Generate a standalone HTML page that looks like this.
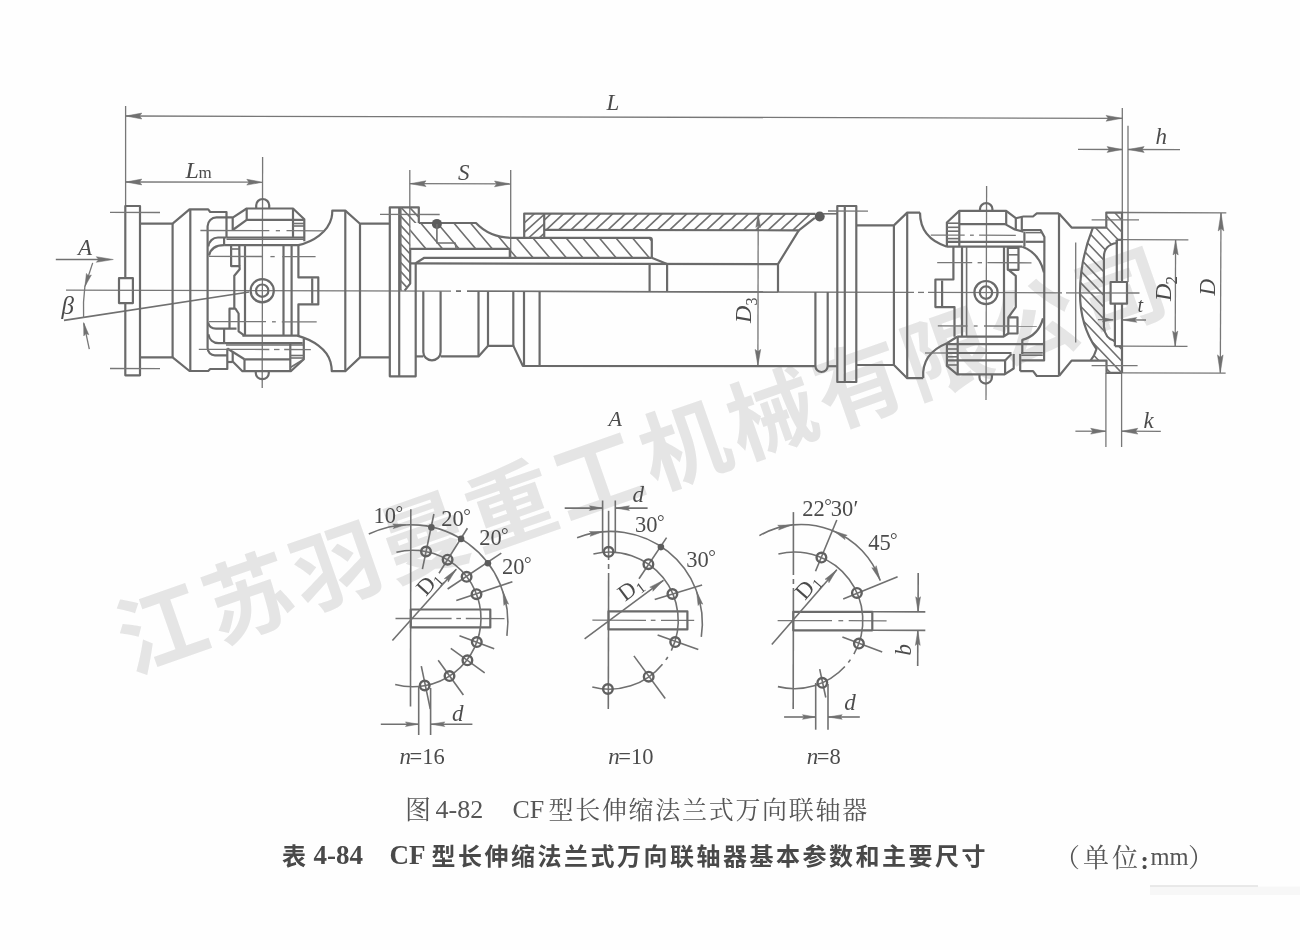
<!DOCTYPE html>
<html><head><meta charset="utf-8"><title>CF</title>
<style>
html,body{margin:0;padding:0;background:#fefefe;}
body{width:1300px;height:950px;overflow:hidden;font-family:"Liberation Serif",serif;}
svg{display:block}
.k{fill:none;stroke:#6b6b6b;stroke-width:2.2;stroke-linejoin:round;stroke-linecap:butt}
.m{fill:none;stroke:#707070;stroke-width:1.6;stroke-linejoin:round}
.n{fill:none;stroke:#777;stroke-width:1.3}
.c{fill:none;stroke:#727272;stroke-width:1.3;stroke-dasharray:26 4 5 4}
.h{fill:none;stroke:#707070;stroke-width:1.6}
.a{fill:#707070;stroke:#707070;stroke-width:0.5;stroke-linejoin:round}
.d{fill:#5c5c5c;stroke:none}
.w{fill:#fefefe;stroke:none}
text{font-family:"Liberation Serif",serif;fill:#4c4c4c}
.ti{font-style:italic}
.tr{font-style:normal}
.tb{font-style:normal;font-weight:bold;fill:#484848}
</style></head>
<body>
<svg width="1300" height="950" viewBox="0 0 1300 950">
<defs>
<filter id="bl" x="-2%" y="-2%" width="104%" height="104%"><feGaussianBlur stdDeviation="0.55"/></filter>
</defs>
<rect width="1300" height="950" fill="#fefefe"/>
<g transform="translate(162.1 629.6) rotate(-19.3)"><text x="-44" y="31" font-size="88" font-weight="bold" letter-spacing="4.4" text-anchor="start" style="font-family:'Liberation Sans','Noto Sans CJK SC',sans-serif;fill:#e5e5e5">江苏羽曼重工机械有限公司</text></g>
<g filter="url(#bl)">
<line class="n" x1="66" y1="290.1" x2="451" y2="291.2"/>
<line class="n" x1="456" y1="291.2" x2="461" y2="291.2"/>
<line class="n" x1="467" y1="291.2" x2="914" y2="292.4"/>
<line class="n" x1="918" y1="292.4" x2="924" y2="292.4"/>
<line class="n" x1="928" y1="292.4" x2="1062" y2="292.8"/>
<line class="n" x1="1066" y1="292.8" x2="1139.5" y2="293"/>
<line class="m" x1="456" y1="291.2" x2="461" y2="291.2"/>
<line class="m" x1="467" y1="291.2" x2="778" y2="292"/>
<line class="m" x1="64" y1="320.4" x2="249" y2="292"/>
<line class="n" x1="125.6" y1="116" x2="1122.3" y2="118.3"/>
<polygon class="a" points="125.8,116 141.8,113.1 139.6,116 141.8,119"/>
<polygon class="a" points="1122.1,118.3 1106.1,121.2 1108.3,118.3 1106.1,115.4"/>
<line class="n" x1="125.6" y1="106" x2="125.6" y2="206"/>
<line class="n" x1="1122.3" y1="108" x2="1122.3" y2="213"/>
<line class="n" x1="1128" y1="125.7" x2="1128" y2="282"/>
<text class="ti" x="606.5" y="110" font-size="23" text-anchor="start">L</text>
<line class="n" x1="125.6" y1="182" x2="263" y2="182.2"/>
<polygon class="a" points="125.8,182 141.8,179.1 139.6,182 141.8,184.9"/>
<polygon class="a" points="262.8,182.2 246.8,185.1 249,182.2 246.8,179.3"/>
<text class="ti" x="185.5" y="177.6" font-size="24" text-anchor="start">L</text>
<text class="tr" x="198.5" y="178.2" font-size="17" text-anchor="start">m</text>
<line class="n" x1="262.6" y1="157" x2="262.2" y2="388"/>
<line class="n" x1="986.6" y1="186" x2="986" y2="400"/>
<line class="n" x1="409.8" y1="170" x2="409.8" y2="249"/>
<line class="n" x1="510.7" y1="170" x2="510.7" y2="258"/>
<line class="n" x1="409.8" y1="183.7" x2="510.7" y2="183.9"/>
<polygon class="a" points="410,183.7 426,180.8 423.8,183.7 426,186.6"/>
<polygon class="a" points="510.5,183.9 494.5,186.8 496.7,183.9 494.5,181"/>
<text class="ti" x="458" y="180" font-size="23" text-anchor="start">S</text>
<line class="n" x1="1078" y1="149.4" x2="1122.3" y2="149.5"/>
<polygon class="a" points="1122.1,149.5 1107.1,152.4 1109.2,149.5 1107.1,146.6"/>
<line class="n" x1="1128" y1="149.5" x2="1180" y2="149.6"/>
<polygon class="a" points="1128.2,149.5 1144.2,146.6 1142,149.5 1144.2,152.4"/>
<text class="ti" x="1155.5" y="143.8" font-size="23" text-anchor="start">h</text>
<line class="n" x1="1105.9" y1="373" x2="1105.9" y2="447"/>
<line class="n" x1="1121.6" y1="373" x2="1121.6" y2="447"/>
<line class="n" x1="1075.4" y1="431.2" x2="1105.9" y2="431.2"/>
<polygon class="a" points="1105.7,431.2 1090.7,434.1 1092.8,431.2 1090.7,428.3"/>
<line class="n" x1="1121.6" y1="431.2" x2="1160.8" y2="431.3"/>
<polygon class="a" points="1121.8,431.2 1137.8,428.3 1135.6,431.2 1137.8,434.1"/>
<text class="ti" x="1143.5" y="427.8" font-size="23" text-anchor="start">k</text>
<line class="n" x1="1122" y1="212.5" x2="1226.3" y2="212.8"/>
<line class="n" x1="1122" y1="372.9" x2="1225.6" y2="373.1"/>
<line class="n" x1="1221" y1="213" x2="1220.3" y2="372.8"/>
<polygon class="a" points="1221,213 1223.8,231 1221,228.5 1218.2,231"/>
<polygon class="a" points="1220.3,372.9 1217.5,354.9 1220.3,357.4 1223.1,354.9"/>
<text class="ti" x="1214.5" y="295.5" font-size="23" text-anchor="start" transform="rotate(-90 1214.5 295.5)">D</text>
<line class="n" x1="1122" y1="239.7" x2="1188.4" y2="239.9"/>
<line class="n" x1="1122" y1="346.1" x2="1187.5" y2="346.3"/>
<line class="n" x1="1175.6" y1="240" x2="1175.2" y2="346"/>
<polygon class="a" points="1175.6,240 1178.2,255 1175.6,252.9 1173,255"/>
<polygon class="a" points="1175.2,346.1 1172.6,331.1 1175.2,333.2 1177.8,331.1"/>
<text class="ti" x="1171" y="301" font-size="24" text-anchor="start" transform="rotate(-90 1171 301)">D</text>
<text class="tr" x="1177" y="284.5" font-size="17" text-anchor="start" transform="rotate(-90 1177 284.5)">2</text>
<line class="n" x1="1098" y1="319.7" x2="1113" y2="319.8"/>
<polygon class="a" points="1113.4,319.8 1102.4,322 1103.9,319.8 1102.4,317.6"/>
<line class="n" x1="1121.8" y1="319.9" x2="1146" y2="320"/>
<polygon class="a" points="1121.8,319.9 1136.8,317.5 1134.7,319.9 1136.8,322.3"/>
<text class="ti" x="1137.5" y="311.8" font-size="20" text-anchor="start">t</text>
<line class="n" x1="758.2" y1="214.2" x2="757.9" y2="365.4"/>
<polygon class="a" points="758.2,214.4 760.6,227.4 758.2,225.6 755.8,227.4"/>
<polygon class="a" points="757.9,365.4 755.1,349.4 757.9,351.6 760.7,349.4"/>
<text class="ti" x="750.5" y="323" font-size="24" text-anchor="start" transform="rotate(-90 750.5 323)">D</text>
<text class="tr" x="757" y="305.5" font-size="16" text-anchor="start" transform="rotate(-90 757 305.5)">3</text>
<line class="m" x1="55.8" y1="259.5" x2="100" y2="259.5"/>
<polygon class="a" points="113.3,259.5 96.3,262.3 98.7,259.5 96.3,256.7"/>
<text class="ti" x="78" y="254.8" font-size="23" text-anchor="start">A</text>
<text class="ti" x="608.5" y="426.4" font-size="22" text-anchor="start">A</text>
<text class="ti" x="61.5" y="313.5" font-size="25" text-anchor="start">&#946;</text>
<path class="n" d="M92.7 262.9 L85 286.2"/>
<polygon class="a" points="84.9,286.6 86.4,273.4 88.4,276 91.4,275"/>
<path class="n" d="M84.9 286.2 A178 178 0 0 0 83.6 318"/>
<path class="n" d="M89.3 349.2 L83.8 323.4"/>
<polygon class="a" points="83.6,322.6 88.8,334.8 85.9,333.5 83.8,335.9"/>
<rect class="k" x="125.3" y="206" width="14.7" height="169.3"/>
<line class="n" x1="110" y1="212.4" x2="160" y2="212.5"/>
<line class="n" x1="110" y1="368.5" x2="160" y2="368.6"/>
<rect class="k" x="119" y="278.2" width="13.9" height="24.9" style="fill:#fefefe"/>
<line class="n" x1="119" y1="290.3" x2="133" y2="290.3"/>
<polyline class="k" points="140,223.7 172.6,223.7 189.5,209.4 208.2,209.4 210.2,212 226.5,212 226.5,237.5"/>
<polyline class="k" points="140,357.4 172.6,357.4 189.5,371 208.2,371 210.2,369 227.3,369 227.3,348.5"/>
<line class="k" x1="172.6" y1="223.7" x2="172.6" y2="357.4"/>
<line class="k" x1="190.3" y1="209.4" x2="190.3" y2="371"/>
<path class="k" d="M232.7 217.3H216.5A9 9 0 0 0 207.6 226.2V348A7.3 7.3 0 0 0 214.9 355.3H227.3"/>
<path class="k" d="M226.5 237.5H218A9.6 9.6 0 0 0 208.4 246.5"/>
<path class="k" d="M209 255.5C210.5 249 216 245.1 224.1 245.1"/>
<path class="k" d="M224.1 237.5V245.1"/>
<path class="k" d="M208 322.5C209 326.5 212 328.6 216 328.6H236.5"/>
<path class="k" d="M208.3 334.3C209.3 339.5 213 343.2 218.5 343.2H224.1"/>
<line class="k" x1="224.1" y1="328.6" x2="224.1" y2="343.2"/>
<polyline class="k" points="232.7,230 232.7,217.6 246.7,208.5 293,208.5 304.3,219.2 304.3,241.3"/>
<polyline class="k" points="232.7,230 246.7,219.8 303.8,219.8"/>
<line class="k" x1="246.7" y1="208.5" x2="246.7" y2="219.8"/>
<line class="k" x1="293" y1="208.5" x2="293" y2="237.5"/>
<line class="m" x1="293" y1="223.5" x2="304.3" y2="223.5"/>
<line class="m" x1="293" y1="226" x2="304.3" y2="226"/>
<line class="k" x1="226.5" y1="237.5" x2="304.3" y2="237.5"/>
<line class="m" x1="226.5" y1="239.2" x2="304.3" y2="239.2"/>
<path class="k" d="M224.1 245.1H298.4C313 242 328 232 331.5 218C332.3 215 332.3 213 332.3 210.6H345.3L360 223.7H389.8"/>
<path class="k" d="M256.2 208.5V205.3A6.5 6.3 0 0 1 269.2 205.3V208.5"/>
<line class="n" x1="200.4" y1="230.5" x2="269.3" y2="230.7"/>
<line class="n" x1="275.8" y1="230.7" x2="280" y2="230.7"/>
<line class="n" x1="286.5" y1="230.7" x2="324.2" y2="230.8"/>
<polyline class="k" points="231.1,245.1 231.1,266.1 239.5,266.1 239.7,269.3 234.3,275.8 234.3,308.4"/>
<line class="k" x1="239.3" y1="245.1" x2="239.5" y2="266.1"/>
<line class="m" x1="231.1" y1="249" x2="239.3" y2="249"/>
<polyline class="k" points="229.5,328.6 229.5,308.7 235.4,308.7 238.6,313.5 238.6,331.3 244.5,335.6"/>
<line class="k" x1="245" y1="245.1" x2="245" y2="335.6"/>
<line class="k" x1="283.5" y1="245.1" x2="283.5" y2="335.6"/>
<line class="k" x1="291.6" y1="245.1" x2="291.6" y2="335.6"/>
<polyline class="k" points="298.4,245.1 298.4,277.4 318.3,277.4 318.3,304.4 298.4,304.4 298.4,336.7"/>
<line class="k" x1="312.2" y1="278.3" x2="312.2" y2="303.6"/>
<line class="n" x1="209" y1="256.4" x2="262.8" y2="256.5"/>
<line class="n" x1="270.4" y1="256.6" x2="274.7" y2="256.6"/>
<line class="n" x1="282.3" y1="256.6" x2="315.6" y2="256.7"/>
<line class="n" x1="209" y1="321.6" x2="266" y2="321.7"/>
<line class="n" x1="272" y1="321.8" x2="275.8" y2="321.8"/>
<line class="n" x1="281.8" y1="321.8" x2="316.7" y2="321.9"/>
<circle class="k" cx="262.2" cy="290.7" r="11.6"/>
<circle class="k" cx="262.2" cy="290.7" r="6.2"/>
<path class="k" d="M242.4 335.6H297.3C313 340 327 349 330.5 362C331.5 366 331.8 369 331.8 371.2H345.3L360 357.4H389.8"/>
<line class="k" x1="224.1" y1="343.2" x2="302.7" y2="343.2"/>
<line class="m" x1="226" y1="345" x2="303.8" y2="345"/>
<polyline class="k" points="303.8,338.8 303.8,359.3 290.8,371.2 242.4,371.2 232.7,361.5 232.7,351.8"/>
<line class="k" x1="290.3" y1="343.2" x2="290.3" y2="371.2"/>
<line class="m" x1="290.3" y1="355.5" x2="303.8" y2="355.5"/>
<line class="m" x1="290.3" y1="358" x2="303.8" y2="358"/>
<line class="k" x1="244.5" y1="359.3" x2="290.3" y2="359.3"/>
<line class="k" x1="227.3" y1="348.5" x2="244.5" y2="359.3"/>
<line class="k" x1="244.5" y1="359.3" x2="244.5" y2="371.2"/>
<line class="k" x1="227.3" y1="362" x2="232.7" y2="362"/>
<line class="m" x1="290.3" y1="367.5" x2="303.8" y2="359.3"/>
<path class="k" d="M255.8 371.2V373.2A6.5 6 0 0 0 268.8 373.2V371.2"/>
<line class="n" x1="198.8" y1="349.3" x2="269.3" y2="349.5"/>
<line class="n" x1="274" y1="349.5" x2="279.5" y2="349.5"/>
<line class="n" x1="284.2" y1="349.5" x2="310.8" y2="349.6"/>
<line class="k" x1="345.3" y1="210.6" x2="345.3" y2="371.2"/>
<line class="k" x1="360" y1="223.7" x2="360" y2="357.4"/>
<polyline class="k" points="418.8,223 418.8,207.3 389.8,207.3 389.8,376.3 415.7,376.3 415.7,263.3"/>
<line class="k" x1="399.2" y1="207.3" x2="399.2" y2="376.3"/>
<line class="m" x1="400.8" y1="207.3" x2="400.8" y2="290.5"/>
<line class="n" x1="380" y1="214.4" x2="439.7" y2="214.5"/>
<clipPath id="c1"><path d="M400.8 207.3H418.8V223H410.2V283.6L404.6 290.6H400.8Z"/></clipPath>
<g clip-path="url(#c1)">
<path class="h" d="M305.1 206L385.4 292M313.7 206L394 292M322.3 206L402.6 292M330.9 206L411.2 292M339.5 206L419.8 292M348.1 206L428.4 292M356.7 206L437 292M365.3 206L445.6 292M373.9 206L454.2 292M382.5 206L462.8 292M391.1 206L471.4 292M399.7 206L480 292M408.3 206L488.6 292M416.9 206L497.2 292M425.5 206L505.8 292M434.1 206L514.4 292M442.7 206L523 292M451.3 206L531.6 292M459.9 206L540.2 292M468.5 206L548.8 292M477.1 206L557.4 292M485.7 206L566 292M494.3 206L574.6 292M502.9 206L583.2 292"/>
</g>
<clipPath id="c2"><path d="M410.2 223H476C484 231.5 496 237.3 510.5 237.8H651.7V257.8H509.8V248.9H410.2Z"/></clipPath>
<g clip-path="url(#c2)">
<path class="h" d="M353.4 222L383.9 258M370 222L400.5 258M386.6 222L417.1 258M403.2 222L433.7 258M419.8 222L450.3 258M436.4 222L466.9 258M453 222L483.5 258M469.6 222L500.1 258M486.2 222L516.7 258M502.8 222L533.3 258M519.4 222L549.9 258M536 222L566.5 258M552.6 222L583.1 258M569.2 222L599.7 258M585.8 222L616.3 258M602.4 222L632.9 258M619 222L649.5 258M635.6 222L666.1 258M652.2 222L682.7 258M668.8 222L699.3 258M685.4 222L715.9 258"/>
</g>
<path class="k" d="M418.8 223H476C484 231.5 496 237.3 510.5 237.8H650A1.8 1.8 0 0 1 651.8 239.6V257.8"/>
<polyline class="k" points="404.6,290.6 410.2,283.6 410.2,248.9 509.8,248.9 509.8,257.8"/>
<circle class="d" cx="436.9" cy="223.9" r="5"/>
<polyline class="m" points="436.9,224 436.9,243 455.1,243 456.3,248.9"/>
<polyline class="k" points="415.7,263.3 424.3,257.8 651.7,257.8"/>
<line class="k" x1="651.7" y1="257.8" x2="667.1" y2="263.9"/>
<line class="k" x1="410.8" y1="263.4" x2="778" y2="264.1"/>
<line class="k" x1="649.6" y1="263.9" x2="649.6" y2="291.6"/>
<line class="k" x1="667.1" y1="263.9" x2="667.1" y2="291.7"/>
<path class="k" d="M415.7 356.4H423.3"/>
<path class="k" d="M423.3 291.2V352A8.65 8.3 0 0 0 440.6 352V291.2"/>
<polyline class="k" points="440.6,356.4 478.5,356.4 487.9,345.9 513.4,345.9 522.8,365.8 815.4,366.2"/>
<line class="k" x1="478.5" y1="291.3" x2="478.5" y2="356.4"/>
<line class="k" x1="488" y1="291.3" x2="488" y2="345.9"/>
<line class="k" x1="513.3" y1="291.4" x2="513.3" y2="345.9"/>
<line class="k" x1="524" y1="291.4" x2="524" y2="365.8"/>
<line class="k" x1="539.6" y1="291.5" x2="539.6" y2="366"/>
<clipPath id="c3"><path d="M524.2 213.6H544.2V237.8H524.2Z"/></clipPath>
<g clip-path="url(#c3)">
<path class="h" d="M476 238L503.8 213M486.5 238L514.3 213M497 238L524.8 213M507.5 238L535.3 213M518 238L545.8 213M528.5 238L556.3 213M539 238L566.8 213M549.5 238L577.3 213M560 238L587.8 213M570.5 238L598.3 213M581 238L608.8 213"/>
</g>
<clipPath id="c4"><path d="M544.2 213.6H815.5L814.5 218L798.8 230.2H544.2Z"/></clipPath>
<g clip-path="url(#c4)">
<path class="h" d="M508.9 230.2L526.4 213.6M521.3 230.2L538.8 213.6M533.6 230.2L551.1 213.6M546 230.2L563.5 213.6M558.4 230.2L575.8 213.6M570.7 230.2L588.2 213.6M583.1 230.2L600.5 213.6M595.4 230.2L612.9 213.6M607.8 230.2L625.2 213.6M620.1 230.2L637.6 213.6M632.5 230.2L649.9 213.6M644.8 230.2L662.3 213.6M657.2 230.2L674.6 213.6M669.5 230.2L687 213.6M681.9 230.2L699.3 213.6M694.2 230.2L711.7 213.6M706.6 230.2L724 213.6M718.9 230.2L736.4 213.6M731.3 230.2L748.7 213.6M743.6 230.2L761.1 213.6M756 230.2L773.4 213.6M768.3 230.2L785.8 213.6M780.7 230.2L798.1 213.6M793 230.2L810.5 213.6M805.4 230.2L822.8 213.6M817.7 230.2L835.2 213.6M830.1 230.2L847.5 213.6M842.4 230.2L859.9 213.6"/>
</g>
<polyline class="k" points="524.2,237.8 524.2,213.6 815.5,213.8"/>
<line class="k" x1="544.2" y1="213.6" x2="544.2" y2="237.8"/>
<polyline class="k" points="544.2,229.9 798.8,230.3 814.8,217.8"/>
<circle class="d" cx="819.7" cy="216.5" r="5"/>
<line class="m" x1="823" y1="213.8" x2="837.3" y2="213.8"/>
<polyline class="k" points="798.8,230.3 778,264.1 778,292"/>
<path class="k" d="M815.4 292.1V366A6.15 6 0 0 0 827.7 366V292.1"/>
<line class="k" x1="827.7" y1="366.2" x2="837.3" y2="366.2"/>
<rect class="k" x="837.3" y="206" width="19" height="176"/>
<line class="k" x1="844.8" y1="206" x2="844.8" y2="382"/>
<line class="n" x1="828" y1="211" x2="868" y2="211.1"/>
<polyline class="k" points="856.3,225.4 893.9,225.4 907.2,212.6 920,212.6"/>
<polyline class="k" points="856.3,365 893.9,365 907.2,378.2 923.2,378.2"/>
<line class="k" x1="893.9" y1="225.4" x2="893.9" y2="365"/>
<line class="k" x1="907.2" y1="212.6" x2="907.2" y2="378.2"/>
<path class="k" d="M920 212.6C920 226 926 240 946.9 246.7"/>
<path class="k" d="M923.2 378.2C922 362 930 350 946.9 343.2L957.2 336.7"/>
<polyline class="k" points="953.4,246.7 953.4,279.5 935.4,279.5 935.4,307.1 954.5,307.1 954.5,336.7"/>
<line class="k" x1="942.1" y1="280.5" x2="942.1" y2="306.2"/>
<polyline class="k" points="946.9,246.7 946.9,222.5 959.3,210.9 1006.2,210.9 1015.8,218.2 1015.8,229.5"/>
<line class="k" x1="959.3" y1="210.9" x2="959.3" y2="246.7"/>
<line class="k" x1="959.3" y1="224.1" x2="1005.1" y2="224.1"/>
<line class="k" x1="1006.2" y1="210.9" x2="1006.2" y2="224.1"/>
<path class="k" d="M1005.1 224.1L1014.8 229.5L1023.4 231.6"/>
<line class="m" x1="946.9" y1="223.2" x2="959.3" y2="223.2"/>
<line class="m" x1="946.9" y1="227.3" x2="959.3" y2="227.3"/>
<line class="m" x1="946.9" y1="231.2" x2="959.3" y2="231.2"/>
<line class="m" x1="946.9" y1="238.6" x2="959.3" y2="238.6"/>
<line class="k" x1="946.9" y1="241.8" x2="1023.4" y2="241.8"/>
<line class="k" x1="946.9" y1="246.7" x2="1022.3" y2="246.7"/>
<path class="k" d="M980 210.9V208.8A6.2 5.6 0 0 1 992.4 208.8V210.9"/>
<line class="n" x1="930.8" y1="235.1" x2="964.7" y2="235.2"/>
<line class="n" x1="970" y1="235.2" x2="973.8" y2="235.2"/>
<line class="n" x1="979.1" y1="235.2" x2="1015.8" y2="235.3"/>
<polyline class="k" points="1015.8,218.2 1023.4,216.5 1033,216.5 1036.8,213.3 1058.9,213.3"/>
<line class="k" x1="1021.8" y1="217" x2="1021.8" y2="230"/>
<polyline class="k" points="1021.8,230 1040.6,230 1044.4,237 1044.1,360.4 1021.2,360.4"/>
<line class="m" x1="1025.5" y1="232.6" x2="1042.2" y2="232.6"/>
<line class="k" x1="1025.5" y1="241.8" x2="1044.3" y2="241.8"/>
<line class="k" x1="1024.4" y1="231.6" x2="1024.4" y2="246.7"/>
<path class="k" d="M1022.3 246.7C1034 251 1041 260 1044 272.5"/>
<rect class="k" x="1007.8" y="247.8" width="10.7" height="22"/>
<line class="m" x1="1007.8" y1="254.8" x2="1018.5" y2="254.8"/>
<polyline class="k" points="1008.5,269.8 1015.8,275.8 1015.8,307.1 1008.3,317.3 1008.3,333.5 1017.5,333.5 1017.5,317.3 1008.3,317.3"/>
<line class="k" x1="962" y1="246.7" x2="962" y2="336.7"/>
<line class="m" x1="966.6" y1="246.7" x2="966.6" y2="336.7"/>
<line class="k" x1="1004" y1="246.7" x2="1004" y2="336.7"/>
<line class="n" x1="937.2" y1="262.6" x2="972.2" y2="262.7"/>
<line class="n" x1="977.6" y1="262.7" x2="982" y2="262.7"/>
<line class="n" x1="987.4" y1="262.7" x2="1031.5" y2="262.8"/>
<line class="n" x1="937.8" y1="325.9" x2="967.4" y2="326"/>
<line class="n" x1="973.8" y1="326" x2="977.6" y2="326"/>
<line class="n" x1="984" y1="326" x2="1036.8" y2="326.2"/>
<circle class="k" cx="986" cy="292.6" r="11.6"/>
<circle class="k" cx="986" cy="292.6" r="6.2"/>
<path class="k" d="M957.2 336.7H1003.5L1008.3 333.5"/>
<polyline class="k" points="946.9,343.2 946.9,365.8 957.2,374.4 1004.5,374.4 1013.7,368.5 1013.7,353.9"/>
<line class="k" x1="957.7" y1="336.7" x2="957.7" y2="374.4"/>
<line class="k" x1="946.9" y1="344.2" x2="1043" y2="344.2"/>
<line class="k" x1="946.9" y1="353" x2="1011.5" y2="353"/>
<line class="k" x1="946.9" y1="360.4" x2="1005.1" y2="360.4"/>
<line class="m" x1="946.9" y1="349" x2="957.7" y2="349"/>
<line class="m" x1="946.9" y1="356.8" x2="957.7" y2="356.8"/>
<line class="m" x1="946.9" y1="365" x2="957.7" y2="365"/>
<line class="k" x1="1005.1" y1="360.4" x2="1011.5" y2="353.9"/>
<line class="k" x1="1005.1" y1="360.4" x2="1005.1" y2="374.4"/>
<line class="k" x1="1020.2" y1="353.9" x2="1020.2" y2="371.2"/>
<line class="m" x1="1021.2" y1="352.8" x2="1042.8" y2="352.8"/>
<line class="m" x1="1021.2" y1="355.2" x2="1042.8" y2="355.2"/>
<path class="k" d="M1043 318.4C1040 330 1033 337 1022.3 339.9V353.9"/>
<polyline class="k" points="1020.2,371.2 1033.1,371.2 1036.8,376 1058.9,376"/>
<path class="k" d="M979.5 374.4V377.4A6.2 6.2 0 0 0 991.9 377.4V374.4"/>
<line class="n" x1="925" y1="353" x2="946.9" y2="353"/>
<line class="k" x1="1059" y1="213.3" x2="1059" y2="376"/>
<polyline class="k" points="1059,213.5 1071.6,227.6 1106.3,227.6 1106.3,212.6 1122,212.6 1122,373"/>
<polyline class="k" points="1059,376 1071.6,360.6 1106.5,360.6 1106.5,372.8 1122,372.8"/>
<line class="n" x1="1075.7" y1="242.5" x2="1075.7" y2="342.4"/>
<clipPath id="c5"><path d="M1106.3 212.6H1122V239.8H1116.8V243C1109 244 1103.9 249 1103.9 257V326.5C1104.5 334 1108 339.5 1114.9 341V346.2H1122V372.8H1106.5V360.6H1090.5Q1094.5 356 1096.5 349C1086 334 1080 315 1080 293C1080 272 1084 250 1092.8 227.8L1106.3 227.6Z"/></clipPath>
<g clip-path="url(#c5)">
<path class="h" d="M912.5 212L1066.8 374M923.7 212L1078 374M934.9 212L1089.2 374M946.1 212L1100.4 374M957.3 212L1111.6 374M968.5 212L1122.8 374M979.7 212L1134 374M990.9 212L1145.2 374M1002.1 212L1156.4 374M1013.3 212L1167.6 374M1024.5 212L1178.8 374M1035.7 212L1190 374M1046.9 212L1201.2 374M1058.1 212L1212.4 374M1069.3 212L1223.6 374M1080.5 212L1234.8 374M1091.7 212L1246 374M1102.9 212L1257.2 374M1114.1 212L1268.4 374M1125.3 212L1279.6 374M1136.5 212L1290.8 374M1147.7 212L1302 374M1158.9 212L1313.2 374M1170.1 212L1324.4 374M1181.3 212L1335.6 374M1192.5 212L1346.8 374M1203.7 212L1358 374M1214.9 212L1369.2 374M1226.1 212L1380.4 374M1237.3 212L1391.6 374M1248.5 212L1402.8 374M1259.7 212L1414 374M1270.9 212L1425.2 374M1282.1 212L1436.4 374"/>
</g>
<path class="k" d="M1092.8 227.8C1084 250 1080 272 1080 293C1080 315 1086 334 1096.5 349Q1094.5 356 1090.5 360.6"/>
<path class="k" d="M1116.8 239.8V243C1109 244 1103.9 249 1103.9 257V326.5C1104.5 334 1108 339.5 1114.9 341"/>
<line class="k" x1="1116.8" y1="239.8" x2="1122" y2="239.8"/>
<line class="k" x1="1114.9" y1="346.2" x2="1122" y2="346.2"/>
<line class="k" x1="1116.8" y1="239.8" x2="1116.8" y2="282"/>
<line class="k" x1="1114.9" y1="303.7" x2="1114.9" y2="346.2"/>
<rect class="k" x="1110.6" y="282" width="16.4" height="21.7" style="fill:#fefefe"/>
<line class="n" x1="1110.6" y1="293" x2="1127" y2="293"/>
<line class="n" x1="1091.6" y1="219.8" x2="1139" y2="219.9"/>
<line class="n" x1="1091.6" y1="365.6" x2="1137.6" y2="365.7"/>
</g>
<g filter="url(#bl)">
<line class="m" x1="410.8" y1="509.2" x2="410.5" y2="706.5"/>
<line class="n" x1="395.5" y1="618.5" x2="451.6" y2="618.5"/>
<line class="n" x1="456.3" y1="618.5" x2="461" y2="618.5"/>
<line class="n" x1="465.8" y1="618.5" x2="504.5" y2="618.6"/>
<rect class="k" x="410.8" y="609.5" width="79.5" height="17.9"/>
<path class="m" d="M396.4 552.3A68.2 68.2 0 1 1 395.2 684.4"/>
<path class="m" d="M368.8 534A97.5 97.5 0 0 1 506.9 635.8"/>
<line class="m" x1="433.9" y1="514" x2="422.4" y2="569.2"/>
<line class="m" x1="467.4" y1="528.2" x2="439" y2="573.2"/>
<line class="m" x1="501.3" y1="553.1" x2="447.6" y2="589"/>
<line class="m" x1="512.4" y1="581.8" x2="456.3" y2="600.5"/>
<line class="m" x1="459.5" y1="635.8" x2="494.2" y2="648.7"/>
<line class="m" x1="450.8" y1="648.4" x2="484.7" y2="672.9"/>
<line class="m" x1="438.2" y1="660.3" x2="463.4" y2="695"/>
<line class="m" x1="421.3" y1="666.1" x2="430.3" y2="709.2"/>
<circle class="k" cx="426" cy="551.5" r="4.8" style="stroke-width:2.4;stroke:#606060"/>
<circle class="k" cx="447.6" cy="559.7" r="4.8" style="stroke-width:2.4;stroke:#606060"/>
<circle class="k" cx="466.6" cy="576.8" r="4.8" style="stroke-width:2.4;stroke:#606060"/>
<circle class="k" cx="476.5" cy="594.2" r="4.8" style="stroke-width:2.4;stroke:#606060"/>
<circle class="k" cx="476.8" cy="642.1" r="4.8" style="stroke-width:2.4;stroke:#606060"/>
<circle class="k" cx="467.4" cy="660.3" r="4.8" style="stroke-width:2.4;stroke:#606060"/>
<circle class="k" cx="449.5" cy="676.1" r="4.8" style="stroke-width:2.4;stroke:#606060"/>
<circle class="k" cx="424.7" cy="685.5" r="4.8" style="stroke-width:2.4;stroke:#606060"/>
<circle class="d" cx="431.4" cy="527.4" r="3.3"/>
<circle class="d" cx="461.1" cy="538.9" r="3.3"/>
<circle class="d" cx="487.9" cy="563.2" r="3.3"/>
<polygon class="a" points="405.9,524.8 393.2,528.6 394.8,526.1 392.7,523.9"/>
<polygon class="a" points="502.8,591.3 508.6,604.2 505.8,602.9 503.9,605.4"/>
<line class="m" x1="392.4" y1="640.5" x2="456.3" y2="569.2"/>
<polygon class="a" points="456.3,569.2 448.2,582.1 447.7,578.8 444.3,578.6"/>
<text class="tr" x="426" y="597" font-size="23" text-anchor="start" transform="rotate(-48 426 597)">D</text>
<text class="tr" x="439.5" y="587" font-size="15" text-anchor="start" transform="rotate(-48 439.5 587)">1</text>
<line class="m" x1="418.7" y1="686" x2="418.7" y2="735"/>
<line class="m" x1="430.6" y1="688" x2="430.6" y2="735"/>
<line class="m" x1="380.8" y1="724.2" x2="418.7" y2="724.2"/>
<polygon class="a" points="418.5,724.2 405.5,726.5 407.3,724.2 405.5,721.9"/>
<line class="m" x1="430.6" y1="724.2" x2="472.4" y2="724.2"/>
<polygon class="a" points="430.8,724.2 444.8,721.9 442.8,724.2 444.8,726.5"/>
<text class="ti" x="452" y="721" font-size="23" text-anchor="start">d</text>
<text class="ti" x="399.5" y="763.7" font-size="23" text-anchor="start">n</text>
<text class="tr" x="409.5" y="763.7" font-size="22.5" text-anchor="start">=16</text>
<text class="tr" x="373.5" y="522.6" font-size="22.5" text-anchor="start">10</text>
<text class="tr" x="395.4" y="518.6" font-size="19" text-anchor="start">&#176;</text>
<text class="tr" x="441.3" y="525.8" font-size="22.5" text-anchor="start">20</text>
<text class="tr" x="463.2" y="521.8" font-size="19" text-anchor="start">&#176;</text>
<text class="tr" x="479.2" y="544.7" font-size="22.5" text-anchor="start">20</text>
<text class="tr" x="501.1" y="540.7" font-size="19" text-anchor="start">&#176;</text>
<text class="tr" x="502.1" y="574" font-size="22.5" text-anchor="start">20</text>
<text class="tr" x="524" y="570" font-size="19" text-anchor="start">&#176;</text>
<line class="m" x1="608.6" y1="510.8" x2="608.6" y2="560"/>
<line class="m" x1="608.6" y1="564" x2="608.6" y2="569"/>
<line class="m" x1="608.6" y1="573" x2="608.3" y2="709"/>
<line class="n" x1="592.4" y1="620.2" x2="646" y2="620.3"/>
<line class="n" x1="650.8" y1="620.3" x2="655.5" y2="620.3"/>
<line class="n" x1="661" y1="620.3" x2="694.2" y2="620.4"/>
<rect class="k" x="608.5" y="611.3" width="78.9" height="18.1"/>
<path class="m" d="M593.4 554A68.6 68.6 0 0 1 671.3 650.7"/>
<path class="m" d="M667.8 657A68.6 68.6 0 0 1 665.8 659.9"/>
<path class="m" d="M662.5 664.2A68.6 68.6 0 0 1 592.3 687"/>
<path class="m" d="M577.1 537.8A91.7 91.7 0 0 1 701.3 636.9"/>
<line class="m" x1="666.6" y1="537.6" x2="639" y2="578.7"/>
<line class="m" x1="702.1" y1="585" x2="654.7" y2="599.5"/>
<line class="m" x1="657.6" y1="635" x2="698.3" y2="649.6"/>
<line class="m" x1="633.9" y1="655.9" x2="665.2" y2="698.5"/>
<circle class="k" cx="608.6" cy="551.8" r="4.8" style="stroke-width:2.4;stroke:#606060"/>
<circle class="k" cx="648.4" cy="564.2" r="4.8" style="stroke-width:2.4;stroke:#606060"/>
<circle class="k" cx="672.4" cy="594" r="4.8" style="stroke-width:2.4;stroke:#606060"/>
<circle class="k" cx="675.2" cy="642.1" r="4.8" style="stroke-width:2.4;stroke:#606060"/>
<circle class="k" cx="648.7" cy="676.7" r="4.8" style="stroke-width:2.4;stroke:#606060"/>
<circle class="k" cx="607.9" cy="689" r="4.8" style="stroke-width:2.4;stroke:#606060"/>
<circle class="d" cx="660.9" cy="547.1" r="3.3"/>
<polygon class="a" points="602.6,531.8 590.1,536.3 591.6,533.6 589.4,531.5"/>
<polygon class="a" points="696.6,591.4 702.8,604.2 699.9,603 698.1,605.5"/>
<line class="m" x1="584.6" y1="638.8" x2="663.4" y2="580.3"/>
<polygon class="a" points="663.4,580.3 652.9,591.3 653,588 649.8,587.2"/>
<text class="tr" x="625" y="602" font-size="23" text-anchor="start" transform="rotate(-37 625 602)">D</text>
<text class="tr" x="640.8" y="593.9" font-size="15" text-anchor="start" transform="rotate(-37 640.8 593.9)">1</text>
<line class="m" x1="602.6" y1="500.5" x2="602.6" y2="552"/>
<line class="m" x1="615.3" y1="500.5" x2="615.3" y2="552"/>
<line class="m" x1="564.7" y1="508.1" x2="602.6" y2="508.1"/>
<polygon class="a" points="602.4,508.1 589.4,510.4 591.2,508.1 589.4,505.8"/>
<line class="m" x1="615.3" y1="508.1" x2="647.6" y2="508.1"/>
<polygon class="a" points="615.5,508.1 629.5,505.8 627.5,508.1 629.5,510.4"/>
<text class="ti" x="632.5" y="502.3" font-size="23" text-anchor="start">d</text>
<text class="ti" x="608.3" y="763.9" font-size="23" text-anchor="start">n</text>
<text class="tr" x="618.3" y="763.9" font-size="22.5" text-anchor="start">=10</text>
<text class="tr" x="635" y="532.1" font-size="22.5" text-anchor="start">30</text>
<text class="tr" x="656.9" y="528.1" font-size="19" text-anchor="start">&#176;</text>
<text class="tr" x="686.3" y="566.5" font-size="22.5" text-anchor="start">30</text>
<text class="tr" x="708.2" y="562.5" font-size="19" text-anchor="start">&#176;</text>
<line class="m" x1="793.4" y1="512.1" x2="793.4" y2="575"/>
<line class="m" x1="793.4" y1="579" x2="793.4" y2="584"/>
<line class="m" x1="793.4" y1="588" x2="793.2" y2="708.9"/>
<line class="n" x1="777.6" y1="620.6" x2="832" y2="620.7"/>
<line class="n" x1="838.4" y1="620.7" x2="843.2" y2="620.7"/>
<line class="n" x1="848.7" y1="620.7" x2="886.6" y2="620.8"/>
<rect class="k" x="793.3" y="611.8" width="79" height="18.5"/>
<path class="m" d="M778.4 554A68.3 68.3 0 0 1 853.9 654.1"/>
<path class="m" d="M850.4 659.6A68.3 68.3 0 0 1 848.3 662.4"/>
<path class="m" d="M844.9 666.5A68.3 68.3 0 0 1 777.9 686.6"/>
<path class="m" d="M759.4 535.6A83.8 83.8 0 0 1 880.2 580.4"/>
<line class="m" x1="836.8" y1="520" x2="815.5" y2="571.3"/>
<line class="m" x1="897.6" y1="576.8" x2="843.2" y2="599"/>
<line class="m" x1="842.4" y1="636.9" x2="882.2" y2="652.1"/>
<line class="m" x1="819.7" y1="669.1" x2="825.8" y2="697.5"/>
<circle class="k" cx="821.4" cy="557.6" r="4.8" style="stroke-width:2.4;stroke:#606060"/>
<circle class="k" cx="856.9" cy="592.9" r="4.8" style="stroke-width:2.4;stroke:#606060"/>
<circle class="k" cx="858.9" cy="643.6" r="4.8" style="stroke-width:2.4;stroke:#606060"/>
<circle class="k" cx="822.3" cy="682.8" r="4.8" style="stroke-width:2.4;stroke:#606060"/>
<polygon class="a" points="791.9,524.9 778.6,530 780,527.3 777.7,525.3"/>
<polygon class="a" points="833.7,530.9 847.2,535.3 844.3,536.5 845,539.6"/>
<polygon class="a" points="880.2,580.4 871.8,567.7 874.9,568.6 876.2,565.7"/>
<line class="m" x1="771.8" y1="644.5" x2="836.8" y2="569.7"/>
<polygon class="a" points="836.8,569.7 828.9,582.7 828.3,579.4 825,579.3"/>
<text class="tr" x="805" y="601" font-size="23" text-anchor="start" transform="rotate(-49 805 601)">D</text>
<text class="tr" x="818.8" y="590" font-size="15" text-anchor="start" transform="rotate(-49 818.8 590)">1</text>
<line class="m" x1="872.3" y1="611.8" x2="925.3" y2="611.9"/>
<line class="m" x1="872.3" y1="630.3" x2="925.3" y2="630.4"/>
<line class="m" x1="918.2" y1="572.9" x2="918.1" y2="611.5"/>
<polygon class="a" points="918.1,611.8 915.7,596.8 918.1,598.9 920.5,596.8"/>
<line class="m" x1="917.7" y1="665.9" x2="917.8" y2="630.6"/>
<polygon class="a" points="917.8,630.4 920.2,645.4 917.8,643.3 915.4,645.4"/>
<text class="ti" x="910.5" y="655.5" font-size="23" text-anchor="start" transform="rotate(-90 910.5 655.5)">b</text>
<line class="m" x1="815.7" y1="683" x2="815.7" y2="729.7"/>
<line class="m" x1="828" y1="684" x2="828" y2="729.7"/>
<line class="m" x1="784.1" y1="717" x2="815.7" y2="717"/>
<polygon class="a" points="815.5,717 802.5,719.3 804.3,717 802.5,714.7"/>
<line class="m" x1="828" y1="717" x2="859.8" y2="717"/>
<polygon class="a" points="828.2,717 842.2,714.7 840.2,717 842.2,719.3"/>
<text class="ti" x="844.3" y="709.9" font-size="23" text-anchor="start">d</text>
<text class="ti" x="806.8" y="763.8" font-size="23" text-anchor="start">n</text>
<text class="tr" x="816.8" y="763.8" font-size="22.5" text-anchor="start">=8</text>
<text class="tr" x="802.3" y="516" font-size="22.5" text-anchor="start">22</text>
<text class="tr" x="824.2" y="512" font-size="19" text-anchor="start">&#176;</text>
<text class="tr" x="830.8" y="516" font-size="22.5" text-anchor="start">30</text>
<text class="tr" x="853.5" y="516" font-size="22.5" text-anchor="start">&#8242;</text>
<text class="tr" x="868.2" y="549.8" font-size="22.5" text-anchor="start">45</text>
<text class="tr" x="890.1" y="545.8" font-size="19" text-anchor="start">&#176;</text>
</g>
<g filter="url(#bl)">
<text class="tr" x="405" y="819" font-size="26" text-anchor="start" style="font-family:'Liberation Serif','Noto Serif CJK SC',serif;fill:#565656">图</text>
<text class="tr" x="435.5" y="817.6" font-size="26" text-anchor="start" style="fill:#565656">4-82</text>
<text class="tr" x="512.5" y="817.6" font-size="26" text-anchor="start" style="fill:#565656">CF</text>
<text class="tr" x="548.5" y="819" font-size="25" letter-spacing="1.7" text-anchor="start" style="font-family:'Liberation Serif','Noto Serif CJK SC',serif;fill:#565656">型长伸缩法兰式万向联轴器</text>
<text class="tb" x="282" y="864.5" font-size="24" text-anchor="start" style="font-family:'Liberation Sans','Noto Sans CJK SC',sans-serif">表</text>
<text class="tb" x="313.5" y="863.6" font-size="27" text-anchor="start">4-84</text>
<text class="tb" x="389.5" y="863.6" font-size="27" text-anchor="start">CF</text>
<text class="tb" x="431.5" y="864.5" font-size="24" letter-spacing="2.5" text-anchor="start" style="font-family:'Liberation Sans','Noto Sans CJK SC',sans-serif">型长伸缩法兰式万向联轴器基本参数和主要尺寸</text>
<text class="tr" x="1080" y="866.5" font-size="26" text-anchor="end" style="font-family:'Liberation Serif','Noto Serif CJK SC',serif;fill:#565656">（</text>
<text class="tr" x="1083" y="866.5" font-size="26" letter-spacing="3" text-anchor="start" style="font-family:'Liberation Serif','Noto Serif CJK SC',serif;fill:#565656">单位</text>
<text class="tb" x="1140.5" y="868.5" font-size="25" text-anchor="start">:</text>
<text class="tr" x="1150.5" y="864.8" font-size="24.5" text-anchor="start" style="fill:#565656">mm</text>
<text class="tr" x="1188" y="866.5" font-size="26" text-anchor="start" style="font-family:'Liberation Serif','Noto Serif CJK SC',serif;fill:#565656">）</text>
</g>
<rect x="1150" y="886.5" width="150" height="8.5" fill="#f7f7f7"/>
<line class="n" style="stroke:#e2e2e2" x1="1150" y1="886" x2="1258" y2="886"/>
</svg>
</body></html>
